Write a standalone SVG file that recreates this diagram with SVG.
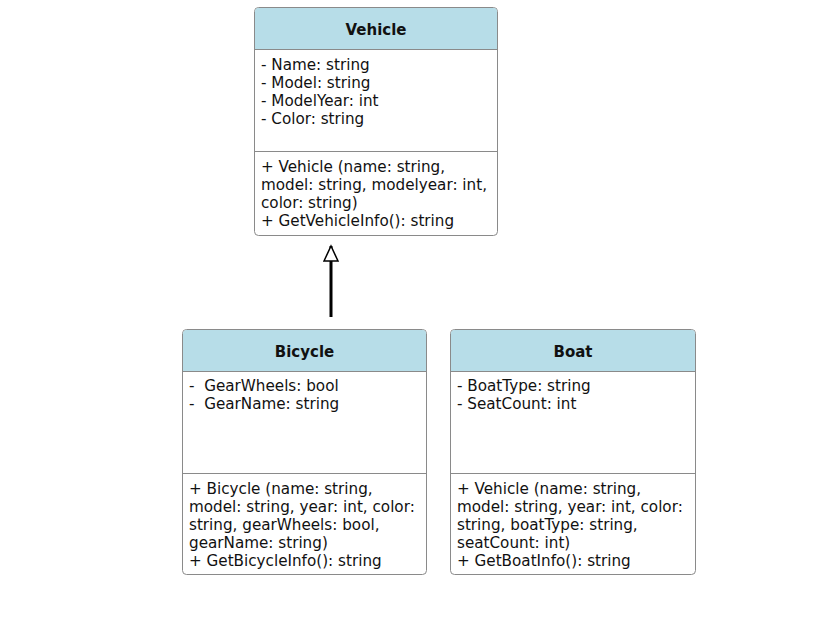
<svg xmlns="http://www.w3.org/2000/svg" width="835" height="617" viewBox="0 0 835 617">
<defs>
<style>
.box{fill:#fff;stroke:#8a8a8a;stroke-width:1}
.hdr{fill:#b7dde8}
.div{stroke:#8a8a8a;stroke-width:1}
text{font-family:"DejaVu Sans",Verdana,sans-serif;font-size:15.2px;fill:#111}
.t{font-weight:bold;text-anchor:middle;font-size:15px}
</style>
<marker id="gen" markerWidth="18" markerHeight="18" refX="16" refY="8" orient="auto" markerUnits="userSpaceOnUse">
<path d="M1,1 L16,8 L1,15 Z" fill="#fff" stroke="#000" stroke-width="1.5"/>
</marker>
</defs>
<rect width="835" height="617" fill="#fff"/>
<g id="connectors">
<line x1="331" y1="317" x2="331" y2="246" stroke="#000" stroke-width="3" marker-end="url(#gen)"/>
</g>
<g id="vehicle">
<rect class="box" x="254.5" y="7.5" width="243" height="228" rx="4"/>
<path class="hdr" d="M258.5,8 H493.5 A3.5,3.5 0 0 1 497,11.5 V49 H255 V11.5 A3.5,3.5 0 0 1 258.5,8 Z"/>
<line class="div" x1="254.5" y1="49.5" x2="497.5" y2="49.5"/>
<line class="div" x1="254.5" y1="151.5" x2="497.5" y2="151.5"/>
<text class="t" x="376" y="35">Vehicle</text>
<text x="261" y="70">- Name: string</text>
<text x="261" y="88">- Model: string</text>
<text x="261" y="106">- ModelYear: int</text>
<text x="261" y="124">- Color: string</text>
<text x="261" y="172">+ Vehicle (name: string,</text>
<text x="261" y="190">model: string, modelyear: int,</text>
<text x="261" y="208">color: string)</text>
<text x="261" y="226">+ GetVehicleInfo(): string</text>
</g>
<g id="bicycle">
<rect class="box" x="182.5" y="329.5" width="244" height="245" rx="4"/>
<path class="hdr" d="M186.5,330 H422.5 A3.5,3.5 0 0 1 426,333.5 V371 H183 V333.5 A3.5,3.5 0 0 1 186.5,330 Z"/>
<line class="div" x1="182.5" y1="371.5" x2="426.5" y2="371.5"/>
<line class="div" x1="182.5" y1="473.5" x2="426.5" y2="473.5"/>
<text class="t" x="304.5" y="357">Bicycle</text>
<text x="189" y="391" xml:space="preserve">-  GearWheels: bool</text>
<text x="189" y="409" xml:space="preserve">-  GearName: string</text>
<text x="189" y="494">+ Bicycle (name: string,</text>
<text x="189" y="512">model: string, year: int, color:</text>
<text x="189" y="530">string, gearWheels: bool,</text>
<text x="189" y="548">gearName: string)</text>
<text x="189" y="566">+ GetBicycleInfo(): string</text>
</g>
<g id="boat">
<rect class="box" x="450.5" y="329.5" width="245" height="245" rx="4"/>
<path class="hdr" d="M454.5,330 H691.5 A3.5,3.5 0 0 1 695,333.5 V371 H451 V333.5 A3.5,3.5 0 0 1 454.5,330 Z"/>
<line class="div" x1="450.5" y1="371.5" x2="695.5" y2="371.5"/>
<line class="div" x1="450.5" y1="473.5" x2="695.5" y2="473.5"/>
<text class="t" x="573" y="357">Boat</text>
<text x="457" y="391">- BoatType: string</text>
<text x="457" y="409">- SeatCount: int</text>
<text x="457" y="494">+ Vehicle (name: string,</text>
<text x="457" y="512">model: string, year: int, color:</text>
<text x="457" y="530">string, boatType: string,</text>
<text x="457" y="548">seatCount: int)</text>
<text x="457" y="566">+ GetBoatInfo(): string</text>
</g>
</svg>
